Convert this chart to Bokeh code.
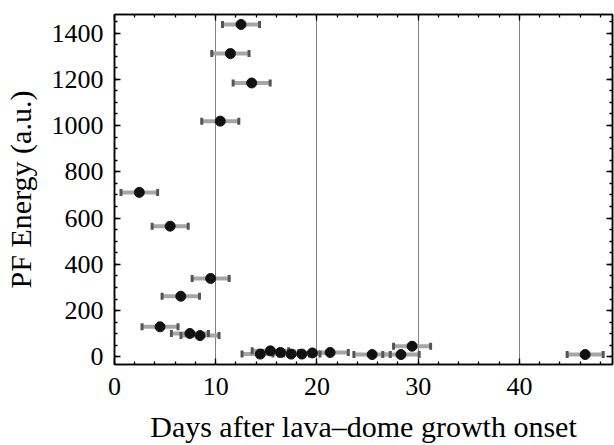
import numpy as np
from bokeh.plotting import figure
from bokeh.models import LinearAxis, Range1d, SingleIntervalTicker, ColumnDataSource, CustomJSTickFormatter
from bokeh.embed import file_html
from bokeh.resources import INLINE

# Data
days = [12.5, 11.45, 13.55, 10.45, 2.45, 5.5, 9.5, 6.55, 4.5, 7.45, 8.45,
        14.4, 15.4, 16.4, 17.45, 18.5, 19.55, 21.3, 25.45, 28.3, 29.4, 46.5]
energy = [1437, 1311, 1184, 1019, 711, 565, 339, 262, 130, 101, 92,
          12, 26, 19, 12, 12, 17, 19, 10, 10, 46, 10]
day_err = [1.83, 1.84, 1.83, 1.83, 1.81, 1.78, 1.83, 1.85, 1.78, 1.83, 1.88,
           1.8, 1.8, 1.8, 1.8, 1.8, 1.8, 1.8, 1.8, 1.8, 1.83, 1.78]

x_label = "Days after lava–dome growth onset"
y_label = "PF Energy (a.u.)"

d = np.array(days)
e = np.array(day_err)
src = ColumnDataSource(dict(x=d, y=energy, lo=d - e, hi=d + e))

FONT = "Liberation Serif"

p = figure(width=614, height=445, output_backend="svg", toolbar_location=None,
           x_range=Range1d(0, 49.2), y_range=Range1d(-33, 1480),
           min_border_left=114, min_border_right=2, min_border_top=14,
           min_border_bottom=81, background_fill_color="white",
           border_fill_color="white")
p.outline_line_color = "black"
p.outline_line_width = 1.5

p.xaxis.ticker = SingleIntervalTicker(interval=10, num_minor_ticks=5)
p.yaxis.ticker = SingleIntervalTicker(interval=200, num_minor_ticks=4)
p.xgrid.ticker = SingleIntervalTicker(interval=10)
p.xgrid.grid_line_color = "#808080"
p.xgrid.grid_line_width = 1
p.ygrid.grid_line_color = None

def style(ax, labels=True):
    ax.axis_line_color = "black"
    ax.axis_line_width = 1.5
    ax.major_tick_in = 6
    ax.major_tick_out = 0
    ax.minor_tick_in = 3
    ax.minor_tick_out = 0
    ax.major_tick_line_color = "black"
    ax.minor_tick_line_color = "black"
    ax.major_tick_line_width = 1.3
    ax.minor_tick_line_width = 1.3
    if labels:
        ax.major_label_text_font = FONT
        ax.major_label_text_font_size = "26px"
        ax.major_label_text_color = "black"
        ax.axis_label_text_font = FONT
        ax.axis_label_text_font_size = "30px"
        ax.axis_label_text_font_style = "normal"
        ax.axis_label_text_color = "black"
    else:
        ax.formatter = CustomJSTickFormatter(code="return ''")
        ax.major_label_standoff = 0

style(p.xaxis[0])
style(p.yaxis[0])
p.xaxis.axis_label = x_label
p.yaxis.axis_label = y_label
p.xaxis.major_label_standoff = 13
p.yaxis.major_label_standoff = 11
p.xaxis.axis_label_standoff = 12
p.yaxis.axis_label_standoff = 12

top = LinearAxis(ticker=SingleIntervalTicker(interval=10, num_minor_ticks=5))
right = LinearAxis(ticker=SingleIntervalTicker(interval=200, num_minor_ticks=4))
style(top, labels=False)
style(right, labels=False)
p.add_layout(top, "above")
p.add_layout(right, "right")

# error bars
p.segment(x0="lo", y0="y", x1="hi", y1="y", source=src,
          line_color="#a6a6a6", line_width=4)
p.scatter(x="lo", y="y", source=src, marker="dash", angle=np.pi / 2,
          size=7, line_color="#555555", line_width=3)
p.scatter(x="hi", y="y", source=src, marker="dash", angle=np.pi / 2,
          size=7, line_color="#555555", line_width=3)
# points
p.scatter(x="x", y="y", source=src, marker="circle", size=10,
          fill_color="#111111", line_color="#111111")

open("out.html", "w").write(file_html(p, INLINE))
